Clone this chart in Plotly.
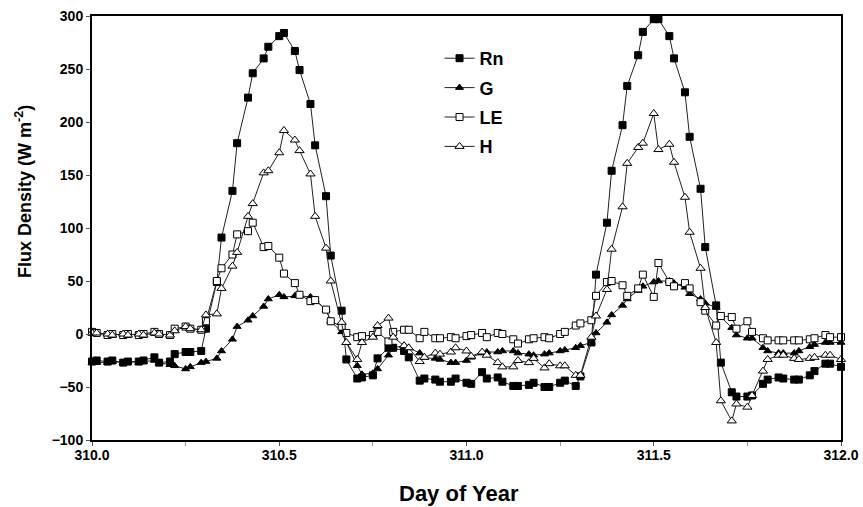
import plotly.graph_objects as go

# ---- time axis: half-hourly stamps (HHMM) for days 310 and 311; x = day + HHMM/2400 ----
days = [310, 311]
stamps = [(k // 2) * 100 + (k % 2) * 30 for k in range(1, 49)]  # 0030 ... 2400
x_day = [310.0] + [d + s / 2400 for d in days for s in stamps]

# ---- series values (W m-2), first value at 310.0 then 48 per day ----
rn = [-26,
      -25, -26, -25, -27, -26, -26, -25, -22, -27, -26,
      -19, -17, -17, -16, 5, 49, 91, 135, 180, 223,
      246, 260, 271, 281, 284, 267, 249, 217, 178, 130,
      74, 22, -24, -42, -41, -39, -23, -13, -13, -16,
      -22, -44, -42, -43, -45, -45, -42, -46,
      -47, -36, -42, -41, -45, -49, -49, -48, -46, -50,
      -50, -46, -44, -49, -40, -8, 56, 105, 154, 197,
      234, 263, 285, 297, 297, 281, 260, 228, 186, 137,
      82, 27, -27, -55, -59, -59, -58, -47, -43, -41,
      -42, -43, -43, -39, -35, -28, -28, -31]

g = [-27,
     -27, -27, -26, -27, -26, -27, -26, -25, -27, -29,
     -30, -33, -31, -27, -26, -23, -16, -5, 7, 13,
     17, 26, 33, 37, 35, 36, 36, 35, 32, 23,
     12, 2, -8, -30, -38, -37, -33, -20, -13, -11,
     -13, -18, -22, -23, -24, -27, -27, -25,
     -22, -18, -17, -17, -16, -16, -18, -19, -20, -19,
     -18, -16, -15, -13, -11, -8, 1, 11, 18, 27,
     33, 41, 45, 49, 50, 50, 48, 44, 38, 33,
     29, 25, 16, 6, -1, -4, -4, -13, -16, -18,
     -18, -18, -16, -12, -10, -8, -8, -8]

le = [2,
      1, -1, 0, -1, 0, -1, 0, 2, 0, -1,
      5, 7, 5, 4, 12, 50, 62, 75, 94, 97,
      105, 82, 83, 72, 57, 48, 37, 31, 32, 23,
      12, 7, 1, -3, -2, -1, 2, -7, 2, 4,
      4, -4, 2, -4, -4, -3, -4, -2,
      -1, 1, -3, 1, 0, -5, -9, -5, -4, -3,
      -4, 0, 2, 8, 10, 13, 36, 49, 50, 46,
      36, 43, 56, 35, 67, 49, 45, 48, 43, 30,
      22, 8, 17, 16, 5, 12, 2, -4, -6, -6,
      -6, -6, -6, -5, -4, -1, -3, -3]

h = [1,
     1, 0, -1, 0, -1, 0, -1, 1, 0, -1,
     3, 7, 5, 4, 18, 19, 43, 64, 77, 111,
     123, 152, 154, 171, 192, 183, 173, 151, 111, 81,
     50, 11, -8, -24, -8, -3, 8, 15, -3, -11,
     -13, -26, -22, -18, -19, -17, -13, -16,
     -21, -17, -20, -27, -31, -31, -25, -27, -23, -32,
     -28, -30, -30, -39, -39, -3, 17, 42, 80, 120,
     161, 176, 180, 208, 174, 179, 162, 129, 96, 62,
     25, -8, -63, -82, -66, -69, -58, -35, -24, -20,
     -20, -23, -24, -23, -22, -20, -20, -24]

series_names = ["Rn", "G", "LE", "H"]
x_tick_vals = [310.0, 310.5, 311.0, 311.5, 312.0]
x_tick_text = ["310.0", "310.5", "311.0", "311.5", "312.0"]
x_title = "Day of Year"
y_title = "Flux Density (W m<sup>-2</sup>)"

FONT = "Liberation Sans, Arial, sans-serif"
LINE = "#222222"
W, H = 863, 507
ML, MR, MT, MB = 92, 22, 16, 67

styles = {
    "Rn": dict(symbol="square", color="black", size=7),
    "G": dict(symbol="triangle-up", color="black", size=7),
    "LE": dict(symbol="square", color="white", size=7),
    "H": dict(symbol="triangle-up", color="white", size=8),
}

fig = go.Figure()
for name, vals in zip(series_names, [rn, g, le, h]):
    st = styles[name]
    fig.add_trace(go.Scatter(
        x=x_day, y=vals, name=name, mode="lines+markers",
        legendgroup=name,
        line=dict(color=LINE, width=1),
        marker=dict(symbol=st["symbol"], size=st["size"], color=st["color"],
                    line=dict(color="black", width=1)),
        cliponaxis=False,
    ))

plot_h = H - MT - MB
plot_w = W - ML - MR

fig.update_layout(
    width=W, height=H,
    margin=dict(l=ML, r=MR, t=MT, b=MB),
    paper_bgcolor="white", plot_bgcolor="white",
    font=dict(family=FONT, color="black"),
    showlegend=True,
    legend=dict(x=0.464, y=1 - (40 - MT) / plot_h, xanchor="left", yanchor="top",
                bgcolor="rgba(0,0,0,0)",
                font=dict(size=18, weight="bold", family=FONT),
                itemwidth=30, tracegroupgap=3),
    annotations=[
        dict(text=x_title, xref="paper", yref="paper",
             x=(459 - ML) / plot_w, y=-(493 - (H - MB)) / plot_h,
             xanchor="center", yanchor="middle", showarrow=False,
             font=dict(size=22, weight="bold", family=FONT)),
        dict(text=y_title, xref="paper", yref="paper",
             x=-(ML - 23) / plot_w, y=1 - (192 - MT) / plot_h,
             xanchor="center", yanchor="middle", showarrow=False, textangle=-90,
             font=dict(size=18, weight="bold", family=FONT)),
    ],
)

fig.update_xaxes(
    range=[310, 312], automargin=False,
    tickvals=x_tick_vals, ticktext=x_tick_text,
    ticks="outside", ticklen=4, tickwidth=1, tickcolor="#555",
    ticklabelstandoff=-3,
    minor=dict(dtick=0.25, tick0=310, ticks="outside", ticklen=4, tickcolor="#999"),
    showline=True, mirror=True, linewidth=2, linecolor="black",
    showgrid=False, zeroline=False,
    tickfont=dict(size=14, weight="bold", family=FONT),
)
fig.update_yaxes(
    range=[-100, 300], dtick=50, tick0=0, automargin=False,
    ticks="outside", ticklen=4, tickwidth=1, tickcolor="#555",
    showline=True, mirror=True, linewidth=2, linecolor="black",
    showgrid=False, zeroline=False,
    tickfont=dict(size=14, weight="bold", family=FONT),
)

fig.write_html("out.html", config={"displayModeBar": False},
               post_script="document.body.style.margin='0';document.body.style.overflow='hidden';")
